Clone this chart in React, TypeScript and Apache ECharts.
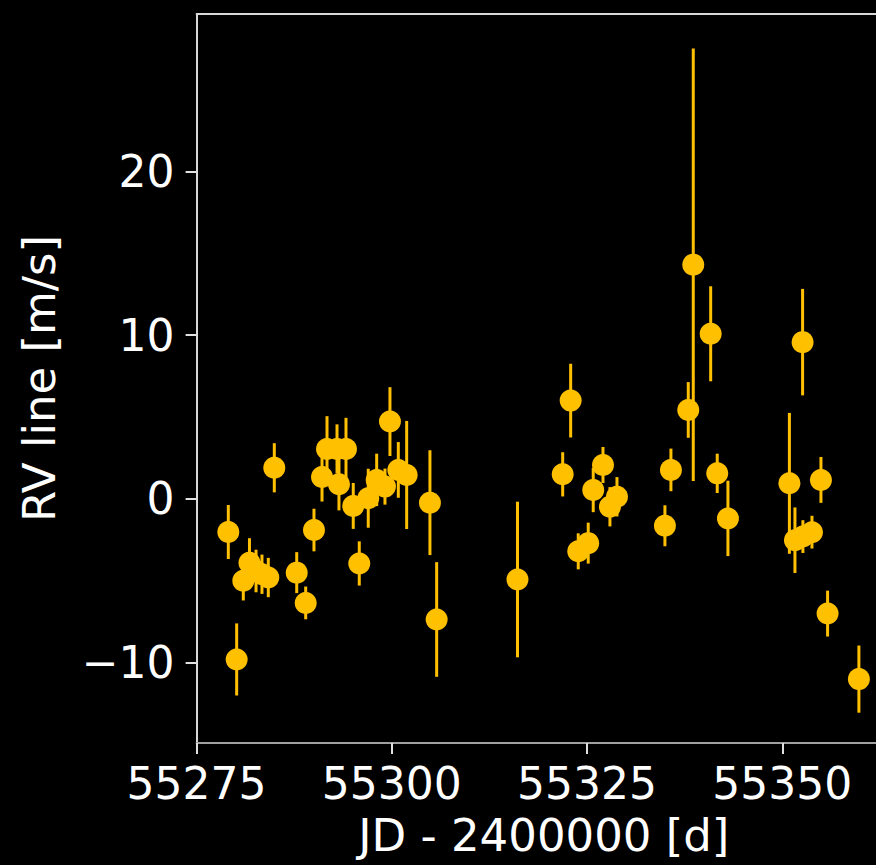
import React, { useEffect, useRef } from "react";
import * as echarts from "echarts";

// Observation epochs (JD - 2400000) and line RV with 1-sigma errors
const jd = [
  55279.06, 55280.13, 55280.98, 55281.77, 55282.61, 55283.37, 55284.18, 55284.95,
  55287.82, 55288.97, 55290.03, 55291.06, 55291.7, 55292.98, 55294.13, 55293.23,
  55295.06, 55295.83, 55296.98, 55298.06, 55299.12, 55299.76, 55300.83, 55301.9,
  55304.88, 55305.74, 55316.09, 55321.88, 55322.9, 55323.87, 55325.15, 55325.79,
  55327.04, 55327.93, 55328.83, 55334.97, 55335.74, 55337.96, 55338.6, 55340.83,
  55341.67, 55343.04, 55350.91, 55351.62, 55352.64, 55352.6, 55353.8, 55354.95,
  55355.8, 55359.81,
];
const rv = [
  -2.02, -9.8, -5.0, -3.9, -4.4, -4.6, -4.8, 1.9,
  -4.5, -6.35, -1.9, 1.34, 3.05, 3.05, 3.05, 0.9,
  -0.43, -3.94, 0.04, 1.16, 0.75, 4.72, 1.77, 1.46,
  -0.23, -7.36, -4.92, 1.5, 6.0, -3.2, -2.7, 0.54,
  2.07, -0.48, 0.13, -1.64, 1.77, 5.43, 14.3, 10.08,
  1.56, -1.19, 0.95, -2.52, -2.3, 9.57, -2.03, 1.16,
  -7.0, -11.0,
];
const rvErr = [
  1.65, 2.2, 1.2, 1.5, 1.3, 1.2, 1.2, 1.5,
  1.25, 1.0, 1.3, 1.5, 2.0, 1.5, 1.9, 1.6,
  1.4, 1.35, 1.8, 1.6, 1.1, 2.1, 1.7, 3.3,
  3.2, 3.5, 4.75, 1.35, 2.25, 1.1, 1.25, 1.35,
  1.1, 1.2, 1.2, 1.25, 1.3, 1.7, 13.2, 2.9,
  1.2, 2.3, 4.3, 2.0, 1.0, 3.25, 1.0, 1.4,
  1.4, 2.05,
];

const xTicks = [55275, 55300, 55325, 55350];
const yTicks = [-10, 0, 10, 20];

const POINT_COLOR = "#FFC000";
const FONT = "DejaVu Sans";

// plain integers, with a true minus sign for negatives
const fmt = (v: number) => (v < 0 ? "\u2212" + String(Math.abs(v)) : String(v));

export default function App() {
  const ref = useRef<HTMLDivElement>(null);

  useEffect(() => {
    if (!ref.current) return;
    const chart = echarts.init(ref.current, undefined, { renderer: "svg" });

    const points = jd.map((x, i) => [x, rv[i], rvErr[i]]);

    const tickLabel = { color: "#ffffff", fontFamily: FONT, fontSize: 44, formatter: fmt };

    chart.setOption({
      animation: false,
      backgroundColor: "#000000",
      grid: { left: 196.6, top: 14, right: 0, height: 729, containLabel: false },
      xAxis: [
        {
          type: "value",
          min: 55275,
          max: 55362,
          name: "JD - 2400000 [d]",
          nameLocation: "middle",
          nameGap: 70,
          nameTextStyle: { color: "#ffffff", fontFamily: FONT, fontSize: 45, padding: [0, 0, 0, 15] },
          axisLine: { show: true, onZero: false, lineStyle: { color: "#a0a0a0", width: 2 } },
          axisTick: { show: true, length: 11, lineStyle: { color: "#e0e0e0", width: 2 }, customValues: xTicks },
          axisLabel: { ...tickLabel, margin: 18, customValues: xTicks },
          splitLine: { show: false },
        },
        {
          type: "value",
          position: "top",
          min: 55275,
          max: 55362,
          axisLine: { show: true, onZero: false, lineStyle: { color: "#d8d8d8", width: 2 } },
          axisTick: { show: false },
          axisLabel: { show: false },
          splitLine: { show: false },
        },
      ],
      yAxis: {
        type: "value",
        min: -14.9,
        max: 29.6,
        name: "RV line [m/s]",
        nameLocation: "middle",
        nameGap: 135,
        nameRotate: 90,
        nameTextStyle: { color: "#ffffff", fontFamily: FONT, fontSize: 45 },
        axisLine: { show: true, onZero: false, lineStyle: { color: "#d8d8d8", width: 2 } },
        axisTick: { show: true, length: 11, lineStyle: { color: "#e0e0e0", width: 2 }, customValues: yTicks },
        axisLabel: { ...tickLabel, margin: 22, customValues: yTicks },
        splitLine: { show: false },
      },
      series: [
        {
          type: "custom",
          name: "error",
          xAxisIndex: 0,
          yAxisIndex: 0,
          data: points,
          encode: { x: 0, y: 1 },
          z: 2,
          renderItem: (_params: any, api: any) => {
            const x = api.value(0);
            const y = api.value(1);
            const e = api.value(2);
            const top = api.coord([x, y + e]);
            const bot = api.coord([x, y - e]);
            return {
              type: "line",
              shape: { x1: top[0], y1: top[1], x2: bot[0], y2: bot[1] },
              style: { stroke: POINT_COLOR, lineWidth: 3 },
            };
          },
        },
        {
          type: "scatter",
          name: "RV",
          xAxisIndex: 0,
          yAxisIndex: 0,
          data: points.map((p) => [p[0], p[1]]),
          symbol: "circle",
          symbolSize: 22,
          itemStyle: { color: POINT_COLOR, opacity: 1 },
          z: 3,
        },
      ],
    });

    return () => chart.dispose();
  }, []);

  return (
    <div
      ref={ref}
      style={{ position: "fixed", left: 0, top: 0, width: 876, height: 865, background: "#000" }}
    />
  );
}
